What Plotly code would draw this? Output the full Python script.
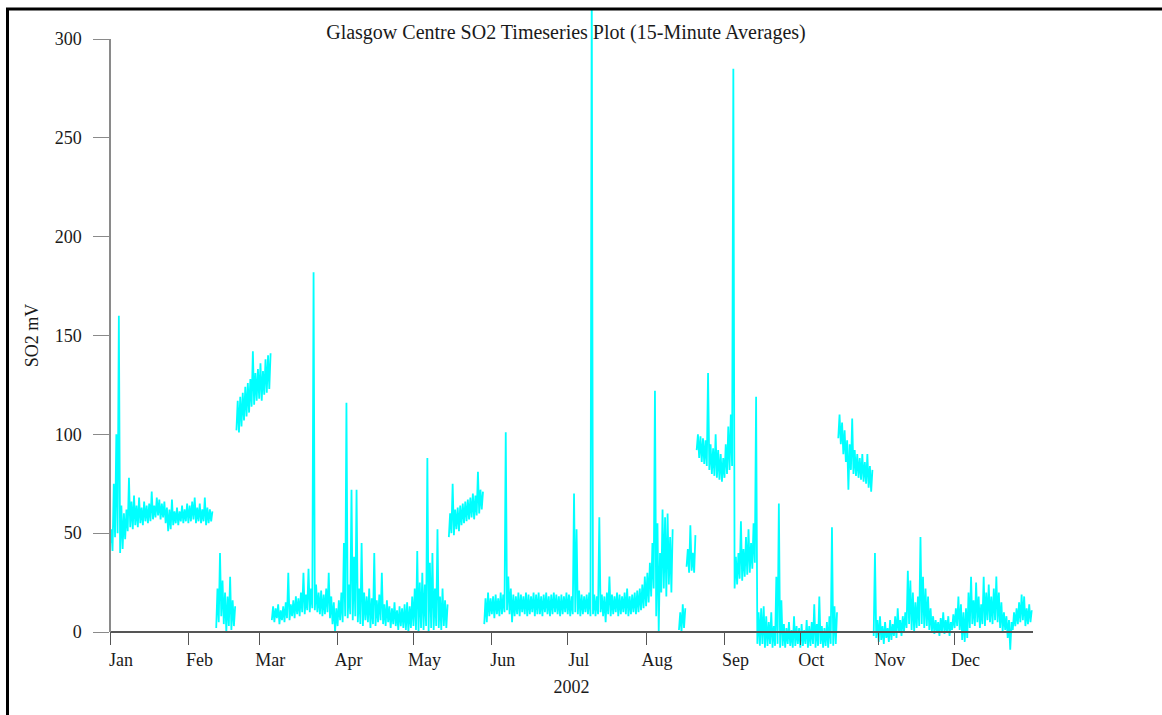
import pandas as pd
import plotly.graph_objects as go

# Daily (low, high) envelopes of the 15-minute SO2 averages, one list per
# unbroken stretch of monitoring; each list starts on the date in `runs`.
run_winter = [
    (44, 52), (41, 75), (48, 100), (50, 160), (40, 64), (42, 60), (47, 62), (51, 78),
    (53, 66), (52, 69), (54, 64), (53, 68), (55, 63), (54, 66), (56, 64), (55, 65),
    (56, 71), (57, 64), (58, 68), (59, 67), (57, 65), (58, 66), (55, 63), (51, 62),
    (52, 67), (54, 61), (55, 63), (54, 61), (56, 64), (55, 62), (56, 65),
    (55, 64), (56, 66), (57, 68), (55, 63), (56, 65), (55, 62), (56, 68), (54, 63),
    (55, 62), (56, 61),
]
run_feb_low = [(2, 22), (5, 40), (8, 26), (4, 20), (0, 18), (3, 28), (1, 16), (3, 13)]
run_feb_high = [
    (102, 117), (101, 119), (104, 121), (107, 124), (109, 126), (111, 128), (114, 142),
    (115, 131), (117, 133), (118, 136), (117, 132), (120, 138), (121, 140), (123, 141),
]
run_spring = [
    (6, 13), (5, 12), (7, 14), (4, 11), (6, 13), (5, 15), (7, 30), (6, 14), (8, 16),
    (7, 18), (9, 17), (8, 20), (10, 30), (9, 19), (11, 32), (10, 22), (12, 182),
    (11, 24), (10, 20), (9, 21), (8, 19), (9, 22), (10, 30), (7, 18), (4, 15), (0, 12),
    (3, 16), (6, 20), (5, 45), (8, 116), (7, 24), (9, 72), (6, 38), (8, 72), (5, 22),
    (4, 45), (3, 20), (6, 18), (5, 22), (2, 17), (4, 40), (3, 16), (5, 19), (6, 30),
    (4, 14), (3, 16), (5, 13), (2, 12), (4, 15), (3, 11), (1, 13), (3, 12), (2, 14),
    (1, 15), (0, 13), (2, 18),
    (3, 22), (1, 41), (0, 25), (2, 30), (1, 24), (3, 88), (0, 35), (2, 40), (1, 22),
    (3, 52), (2, 18), (1, 22), (3, 16), (2, 14),
]
run_may_high = [
    (48, 60), (50, 75), (49, 62), (52, 63), (51, 64), (54, 65), (55, 66), (56, 67),
    (57, 68), (58, 70), (57, 69), (59, 81), (60, 72), (62, 71),
]
run_summer = [
    (4, 17), (5, 20), (8, 17),
    (9, 18), (7, 19), (9, 17), (8, 20), (9, 19), (10, 101), (11, 28), (9, 22), (5, 19),
    (8, 18), (9, 20), (8, 19), (10, 18), (9, 20), (8, 19), (9, 18), (10, 20), (8, 19),
    (9, 20), (9, 18), (8, 19), (10, 20), (9, 18), (8, 19), (9, 20), (10, 19), (9, 18),
    (8, 19), (9, 18), (10, 20),
    (9, 19), (8, 18), (9, 70), (10, 52), (9, 21), (8, 19), (9, 18), (10, 19), (9, 20),
    (8, 330), (9, 19), (8, 18), (9, 58), (10, 19), (8, 18), (5, 20), (9, 28), (8, 19),
    (9, 18), (10, 20), (8, 19), (9, 18), (10, 20), (9, 22), (8, 18), (9, 19), (10, 20),
    (9, 21), (10, 22), (11, 24), (12, 28),
    (13, 30), (15, 35), (18, 45), (22, 122), (8, 55), (0, 40), (20, 62), (22, 58),
    (18, 60), (24, 48), (20, 52),
]
run_aug_blip = [(1, 10), (0, 14), (2, 12)]
run_aug_mid = [(33, 42), (30, 54), (31, 40), (30, 49)]
run_autumn = [
    (92, 100), (88, 99), (86, 98), (85, 97), (84, 131), (82, 95), (80, 93), (79, 100),
    (78, 92), (77, 90), (76, 88),
    (78, 95), (80, 104), (82, 110), (84, 285), (22, 38), (24, 40), (27, 56), (26, 42),
    (28, 48), (29, 52), (30, 45), (32, 55), (35, 119), (-6, 10), (-7, 12), (-6, 13),
    (-8, 8), (-7, 5), (-6, 10), (-8, 3), (-7, 28), (-6, 65), (-8, 16), (-7, 4), (-8, 2),
    (-6, 5), (-7, 1), (-8, 8), (-7, 3), (-6, 2),
    (-8, 4), (-7, 1), (-6, 6), (-8, 3), (-7, 5), (-6, 14), (-8, 4), (-7, 18), (-6, 3),
    (-8, 2), (-7, 5), (-8, 8), (-6, 53), (-7, 13), (-6, 10),
]
run_oct_high = [
    (98, 110), (95, 106), (90, 102), (86, 97), (72, 95), (82, 108), (80, 92), (79, 90),
    (78, 88), (77, 90), (76, 86), (75, 90), (73, 84), (71, 82),
]
run_winter_end = [
    (-2, 40), (-3, 6),
    (-5, 8), (-4, 3), (-6, 5), (-3, 2), (-5, 6), (-4, 4), (-2, 8), (-3, 12), (0, 6),
    (-2, 8), (0, 10), (2, 31), (4, 26), (1, 20), (0, 15), (2, 18), (3, 48), (4, 28),
    (2, 22), (3, 18), (1, 12), (0, 8), (-1, 6), (0, 5), (-2, 7), (0, 10), (-1, 6),
    (0, 8), (-2, 5), (1, 9),
    (2, 12), (3, 18), (1, 14), (-4, 10), (-5, 12), (-3, 20), (2, 28), (4, 16), (3, 25),
    (5, 18), (2, 14), (4, 28), (3, 20), (6, 24), (5, 18), (4, 22), (6, 28), (5, 20),
    (2, 15), (0, 10), (1, 8), (-3, 6), (-9, 5), (1, 10), (3, 12), (4, 15), (5, 19),
    (6, 18), (3, 12), (4, 14), (5, 11),
]

runs = [
    ("2002-01-01", run_winter),
    ("2002-02-12", run_feb_low),
    ("2002-02-20", run_feb_high),
    ("2002-03-06", run_spring),
    ("2002-05-15", run_may_high),
    ("2002-05-29", run_summer),
    ("2002-08-14", run_aug_blip),
    ("2002-08-17", run_aug_mid),
    ("2002-08-21", run_autumn),
    ("2002-10-16", run_oct_high),
    ("2002-10-30", run_winter_end),
]

month_labels = ["Jan", "Feb", "Mar", "Apr", "May", "Jun",
                "Jul", "Aug", "Sep", "Oct", "Nov", "Dec"]
month_starts = pd.date_range("2002-01-01", periods=12, freq="MS")
y_ticks = [0, 50, 100, 150, 200, 250, 300]

# Each day contributes its low (midnight) and high (midday); runs are split by gaps.
xs, ys = [], []
for start, pairs in runs:
    t0 = pd.Timestamp(start)
    for i, (lo, hi) in enumerate(pairs):
        day = t0 + pd.Timedelta(days=i)
        xs += [day, day + pd.Timedelta(hours=12)]
        ys += [lo, hi]
    xs.append(None)
    ys.append(None)

W, H = 1162, 715
FONT = "Liberation Serif"
TEXT = "#1a1a1a"

# pixel geometry of the plotting frame
x_left, x_right = 110, 1033
y_zero, y_top300 = 632, 39
px_per_unit = (y_zero - y_top300) / 300.0
clip_top, clip_bottom = 10, 668


def px_to_val(py):
    return (y_zero - py) / px_per_unit


fig = go.Figure()
fig.add_trace(go.Scatter(
    x=xs, y=ys, mode="lines", connectgaps=False,
    line=dict(color="#00FFFF", width=1.8),
    showlegend=False, hoverinfo="skip",
))
# empty companion trace so the labelled 0-300 axis gets drawn
fig.add_trace(go.Scatter(x=[], y=[], yaxis="y2", showlegend=False, hoverinfo="skip"))

fig.update_layout(
    width=W, height=H,
    margin=dict(l=0, r=0, t=0, b=0, autoexpand=False),
    paper_bgcolor="white", plot_bgcolor="rgba(0,0,0,0)",
    font=dict(family=FONT, color=TEXT, size=18),
    title=dict(
        text="Glasgow Centre SO2 Timeseries Plot (15-Minute Averages)",
        x=566 / W, xanchor="center", y=1 - 32 / H, yanchor="middle",
        font=dict(family=FONT, size=20, color=TEXT),
    ),
    xaxis=dict(
        type="date",
        range=["2002-01-01", "2003-01-01"],
        domain=[x_left / W, x_right / W],
        anchor="free", position=1 - y_zero / H, automargin=False,
        showline=True, linecolor="#555555", linewidth=1.5,
        ticks="outside", ticklen=12, tickcolor="#555555", tickwidth=1.2,
        tickvals=month_starts, ticktext=month_labels,
        ticklabelshift=11, ticklabelstandoff=0,
        tickfont=dict(family=FONT, size=18, color=TEXT),
        showgrid=False, zeroline=False,
        title=dict(text="2002", standoff=10,
                   font=dict(family=FONT, size=18, color=TEXT)),
    ),
    yaxis=dict(
        domain=[1 - clip_bottom / H, 1 - clip_top / H],
        range=[px_to_val(clip_bottom), px_to_val(clip_top)],
        visible=False, automargin=False,
    ),
    yaxis2=dict(
        domain=[1 - y_zero / H, 1 - y_top300 / H],
        range=[0, 300],
        anchor="free", position=x_left / W, automargin=False,
        showline=True, linecolor="#8a8a8a", linewidth=1.5,
        ticks="outside", ticklen=16, tickcolor="#8a8a8a", tickwidth=1.2,
        tickvals=y_ticks, ticklabelstandoff=8,
        tickfont=dict(family=FONT, size=18, color=TEXT),
        showgrid=False, zeroline=False,
        title=dict(text="SO2 mV", standoff=10,
                   font=dict(family=FONT, size=18, color=TEXT)),
    ),
    shapes=[
        dict(type="line", xref="paper", yref="paper",
             x0=7.5 / W, x1=7.5 / W, y0=0, y1=1 - 8 / H,
             line=dict(color="black", width=3)),
        dict(type="line", xref="paper", yref="paper",
             x0=6 / W, x1=1, y0=1 - 9 / H, y1=1 - 9 / H,
             line=dict(color="black", width=3)),
    ],
)

fig.write_html("out.html")
